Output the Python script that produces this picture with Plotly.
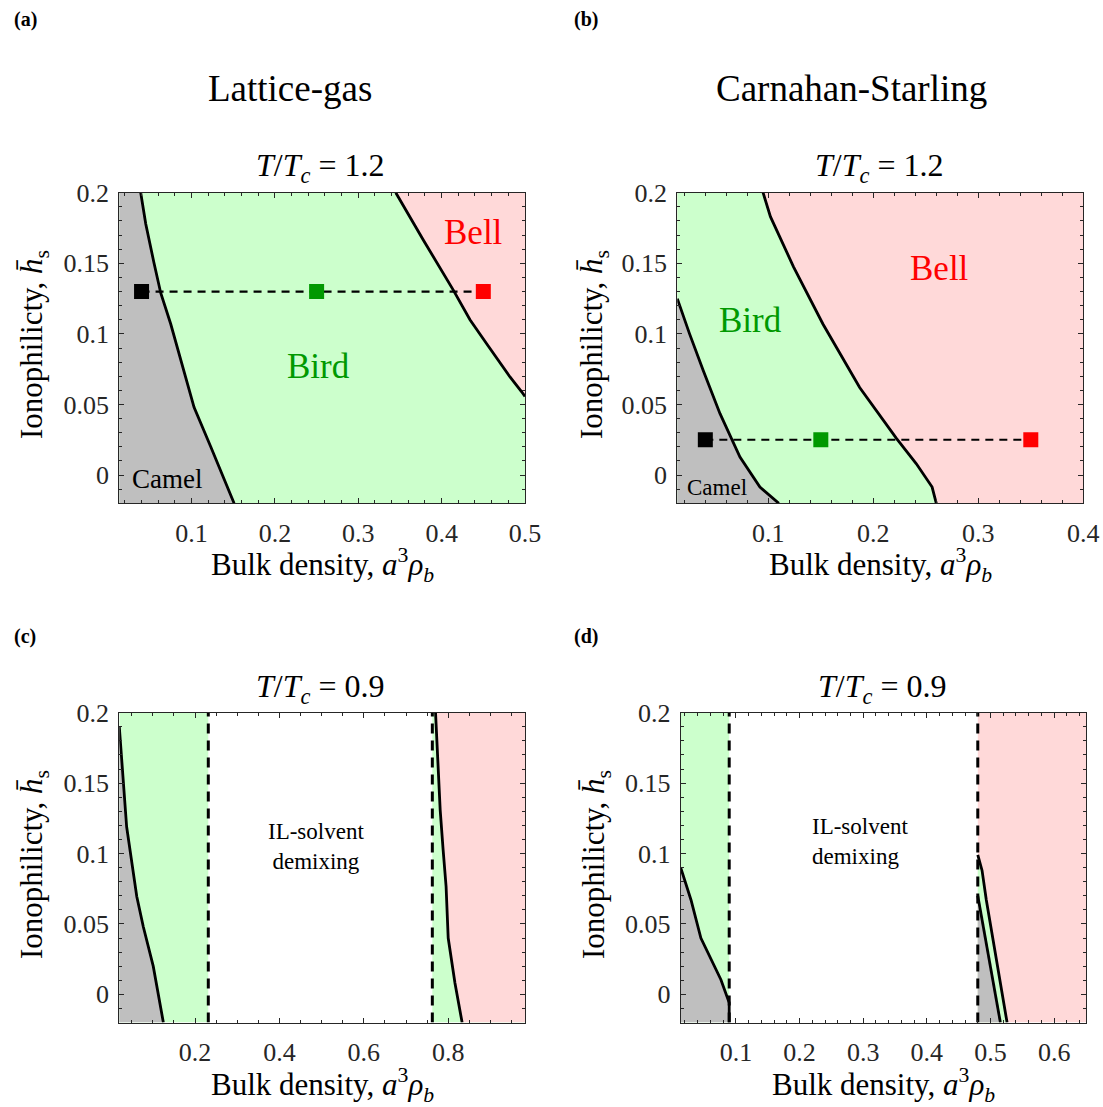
import plotly.graph_objects as go

FONT = "Liberation Serif, DejaVu Serif, Times New Roman, serif"
W, H = 1103, 1107
AX = "#262626"

GRAY = "rgb(191,191,191)"
GREEN = "rgb(204,255,204)"
PINK = "rgb(255,217,217)"
DKGREEN = "rgb(0,153,0)"
RED = "rgb(255,0,0)"

# ---------------- data ----------------
y_range = [-0.02, 0.2]
y_ticks = [0, 0.05, 0.1, 0.15, 0.2]
y_ticktext = ["0", "0.05", "0.1", "0.15", "0.2"]

# (a) Lattice-gas, T/Tc = 1.2
a_xrange = [0.0133, 0.5]
a_xticks = [0.1, 0.2, 0.3, 0.4, 0.5]
a_camel_x = [0.039, 0.045, 0.055, 0.063, 0.075, 0.087, 0.103, 0.123, 0.135, 0.151]
a_camel_y = [0.2, 0.178, 0.150, 0.129, 0.107, 0.081, 0.048, 0.020, 0.003, -0.02]
a_bell_x = [0.345, 0.378, 0.414, 0.434, 0.454, 0.482, 0.496, 0.5]
a_bell_y = [0.2, 0.1665, 0.131, 0.110, 0.093, 0.0695, 0.059, 0.0556]
a_pts_x = [0.04, 0.25, 0.45]
a_pts_y = [0.13, 0.13, 0.13]

# (b) Carnahan-Starling, T/Tc = 1.2
b_xrange = [0.0133, 0.4]
b_xticks = [0.1, 0.2, 0.3, 0.4]
b_camel_x = [0.0133, 0.025, 0.038, 0.054, 0.073, 0.092, 0.110]
b_camel_y = [0.125, 0.100, 0.074, 0.0435, 0.0128, -0.0085, -0.02]
b_bell_x = [0.095, 0.102, 0.124, 0.152, 0.187, 0.222, 0.241, 0.256, 0.260]
b_bell_y = [0.2, 0.183, 0.1475, 0.107, 0.062, 0.026, 0.008, -0.0085, -0.02]
b_pts_x = [0.04, 0.15, 0.35]
b_pts_y = [0.025, 0.025, 0.025]

# (c) Lattice-gas, T/Tc = 0.9
c_xrange = [0.0206, 0.982]
c_xticks = [0.2, 0.4, 0.6, 0.8]
c_camel_x = [0.0206, 0.026, 0.038, 0.062, 0.0775, 0.101, 0.125]
c_camel_y = [0.19, 0.169, 0.119, 0.0695, 0.048, 0.020, -0.02]
c_bell_x = [0.770, 0.774, 0.781, 0.788, 0.795, 0.800, 0.816, 0.833]
c_bell_y = [0.2, 0.1735, 0.131, 0.1026, 0.0766, 0.040, 0.008, -0.02]
c_dash = [0.2315, 0.7624]

# (d) Carnahan-Starling, T/Tc = 0.9
d_xrange = [0.0133, 0.65]
d_xticks = [0.1, 0.2, 0.3, 0.4, 0.5, 0.6]
d_camel_x = [0.0133, 0.0295, 0.045, 0.0765, 0.0895, 0.0895]
d_camel_y = [0.090, 0.067, 0.040, 0.0104, -0.006, -0.02]
d_dash = [0.0895, 0.48]
d_lineA_x = [0.48, 0.4997, 0.5155]
d_lineA_y = [0.070, 0.020, -0.02]
d_lineB_x = [0.48, 0.4867, 0.4934, 0.526]
d_lineB_y = [0.099, 0.088, 0.067, -0.02]

fig = go.Figure()

def px2x(p):
    return p / W

def px2y(p):
    return 1 - p / H

def add(ax, **kw):
    xa, ya = ax
    fig.add_trace(go.Scatter(xaxis=xa, yaxis=ya, showlegend=False, hoverinfo="skip", **kw))

def rect(ax, x0, x1, color):
    add(ax, x=[x0, x1, x1, x0, x0], y=[y_range[0], y_range[0], y_range[1], y_range[1], y_range[0]],
        mode="lines", line=dict(width=0), fill="toself", fillcolor=color)

def line(ax, xs, ys, width=2.8):
    add(ax, x=xs, y=ys, mode="lines", line=dict(color="black", width=width))

def vdash(ax, x):
    add(ax, x=[x, x], y=y_range, mode="lines", line=dict(color="black", width=3, dash="10px,7px"))

# ---- (a)
A = ("x", "y")
rect(A, a_xrange[0], a_xrange[1], GREEN)
add(A, x=a_camel_x, y=a_camel_y, mode="lines", line=dict(width=0), fill="tozerox", fillcolor=GRAY)
add(A, x=a_bell_x + [a_xrange[1]], y=a_bell_y + [y_range[1]], mode="lines", line=dict(width=0),
    fill="toself", fillcolor=PINK)
line(A, a_camel_x, a_camel_y)
line(A, a_bell_x, a_bell_y)
add(A, x=[a_pts_x[0], a_pts_x[-1]], y=[a_pts_y[0], a_pts_y[-1]], mode="lines",
    line=dict(color="black", width=2.2, dash="8px,6px"))
add(A, x=a_pts_x, y=a_pts_y, mode="markers",
    marker=dict(symbol="square", size=15, color=["black", DKGREEN, RED], line=dict(width=0)))

# ---- (b)
B = ("x2", "y2")
rect(B, b_xrange[0], b_xrange[1], PINK)
add(B, x=b_bell_x, y=b_bell_y, mode="lines", line=dict(width=0), fill="tozerox", fillcolor=GREEN)
add(B, x=b_camel_x, y=b_camel_y, mode="lines", line=dict(width=0), fill="tozerox", fillcolor=GRAY)
line(B, b_camel_x, b_camel_y)
line(B, b_bell_x, b_bell_y)
add(B, x=[b_pts_x[0], b_pts_x[-1]], y=[b_pts_y[0], b_pts_y[-1]], mode="lines",
    line=dict(color="black", width=2.2, dash="8px,6px"))
add(B, x=b_pts_x, y=b_pts_y, mode="markers",
    marker=dict(symbol="square", size=15, color=["black", DKGREEN, RED], line=dict(width=0)))

# ---- (c)
C = ("x3", "y3")
rect(C, c_xrange[0], c_dash[0], GREEN)
add(C, x=c_camel_x, y=c_camel_y, mode="lines", line=dict(width=0), fill="tozerox", fillcolor=GRAY)
rect(C, c_dash[1], c_xrange[1], GREEN)
add(C, x=c_bell_x + [c_xrange[1], c_xrange[1]], y=c_bell_y + [y_range[0], y_range[1]], mode="lines",
    line=dict(width=0), fill="toself", fillcolor=PINK)
line(C, c_camel_x, c_camel_y)
line(C, c_bell_x, c_bell_y)
vdash(C, c_dash[0])
vdash(C, c_dash[1])

# ---- (d)
D = ("x4", "y4")
rect(D, d_xrange[0], d_dash[0], GREEN)
add(D, x=d_camel_x, y=d_camel_y, mode="lines", line=dict(width=0), fill="tozerox", fillcolor=GRAY)
rect(D, d_dash[1], d_xrange[1], PINK)
add(D, x=d_lineB_x + [d_dash[1]], y=d_lineB_y + [y_range[0]], mode="lines", line=dict(width=0),
    fill="toself", fillcolor=GREEN)
add(D, x=d_lineA_x + [d_dash[1]], y=d_lineA_y + [y_range[0]], mode="lines", line=dict(width=0),
    fill="toself", fillcolor=GRAY)
line(D, d_camel_x, d_camel_y)
line(D, d_lineA_x, d_lineA_y)
line(D, d_lineB_x, d_lineB_y)
vdash(D, d_dash[0])
vdash(D, d_dash[1])

# ---------------- axes ----------------
panels = {
    "": dict(dom_x=(119.3, 525.0), dom_y=(192.7, 503.3), xr=a_xrange, xt=a_xticks, minor=0.02),
    "2": dict(dom_x=(677.3, 1083.3), dom_y=(192.7, 503.3), xr=b_xrange, xt=b_xticks, minor=0.02),
    "3": dict(dom_x=(119.3, 525.0), dom_y=(712.7, 1022.5), xr=c_xrange, xt=c_xticks, minor=0.05),
    "4": dict(dom_x=(680.7, 1086.0), dom_y=(712.7, 1022.5), xr=d_xrange, xt=d_xticks, minor=0.02),
}

common = dict(showline=True, linecolor=AX, linewidth=1, mirror="allticks", ticks="inside",
              ticklen=5, tickcolor=AX, tickwidth=1, showgrid=False, zeroline=False,
              automargin=False,
              tickfont=dict(family=FONT, size=26, color=AX), fixedrange=True)

layout = {}
for k, p in panels.items():
    xt = p["xt"]
    layout["xaxis" + k] = dict(common, domain=[px2x(p["dom_x"][0]), px2x(p["dom_x"][1])],
                               range=p["xr"], tickvals=xt, ticktext=[("%g" % v) for v in xt],
                               anchor="y" + k, ticklabelstandoff=6,
                               minor=dict(ticks="inside", dtick=p["minor"], tick0=0, ticklen=3,
                                          tickcolor=AX, showgrid=False))
    layout["yaxis" + k] = dict(common, domain=[px2y(p["dom_y"][1]), px2y(p["dom_y"][0])],
                               range=y_range, tickvals=y_ticks, ticktext=y_ticktext,
                               anchor="x" + k, ticklabelstandoff=4,
                               minor=dict(ticks="inside", dtick=0.01, tick0=0, ticklen=3,
                                          tickcolor=AX, showgrid=False))

ann = []

def pann(text, x, y, size, color="black", bold=False, angle=0, align="center", xanchor="center"):
    ann.append(dict(text=("<b>%s</b>" % text) if bold else text, x=px2x(x), y=px2y(y),
                    xref="paper", yref="paper", showarrow=False, textangle=angle,
                    xanchor=xanchor, yanchor="middle", align=align,
                    font=dict(family=FONT, size=size, color=color)))

def dann(ax, text, x, y, size, color="black", align="center", xanchor="center"):
    ann.append(dict(text=text, x=x, y=y, xref=ax[0], yref=ax[1], showarrow=False,
                    xanchor=xanchor, yanchor="middle", align=align,
                    font=dict(family=FONT, size=size, color=color)))

# panel letters
pann("(a)", 25, 19, 20, bold=True)
pann("(b)", 586, 19, 20, bold=True)
pann("(c)", 25, 636, 20, bold=True)
pann("(d)", 586, 636, 20, bold=True)

# model titles
pann("Lattice-gas", 290, 88, 37)
pann("Carnahan-Starling", 851, 88, 37)

# temperature titles
NB = "\u00a0"
t12 = "<i>T</i>/<i>T<sub>c</sub></i>" + NB + "=" + NB + "1.2"
t09 = "<i>T</i>/<i>T<sub>c</sub></i>" + NB + "=" + NB + "0.9"
pann(t12, 320, 168, 32)
pann(t12, 879, 168, 32)
pann(t09, 320, 688, 32)
pann(t09, 882, 688, 32)

# axis titles
xtitle = "Bulk density, <i>a</i><sup>3</sup><i>ρ<sub>b</sub></i>"
ytitle = "Ionophilicty, <i>h\u0304</i><sub>s</sub>"
pann(xtitle, 322, 565, 31)
pann(xtitle, 880, 565, 31)
pann(xtitle, 322, 1085, 31)
pann(xtitle, 883, 1085, 31)
pann(ytitle, 34, 345, 31, angle=-90)
pann(ytitle, 594, 345, 31, angle=-90)
pann(ytitle, 34, 865, 31, angle=-90)
pann(ytitle, 596, 865, 31, angle=-90)

# region labels
dann(A, "Bell", 0.438, 0.172, 35, RED)
dann(A, "Bird", 0.252, 0.0766, 35, DKGREEN)
dann(A, "Camel", 0.071, -0.0026, 27)
dann(B, "Bell", 0.2635, 0.1464, 35, RED)
dann(B, "Bird", 0.0826, 0.1097, 35, DKGREEN)
dann(B, "Camel", 0.0509, -0.0085, 23)
dann(C, "IL-solvent<br>demixing", 0.486, 0.1048, 23)
dann(D, "IL-solvent<br>demixing", 0.2165, 0.1087, 23, align="left", xanchor="left")

fig.update_layout(width=W, height=H, margin=dict(l=0, r=0, t=0, b=0, pad=0), autosize=False,
                  paper_bgcolor="white", plot_bgcolor="white", annotations=ann,
                  font=dict(family=FONT))
fig.update_layout(**layout)

fig.write_html("out.html")
